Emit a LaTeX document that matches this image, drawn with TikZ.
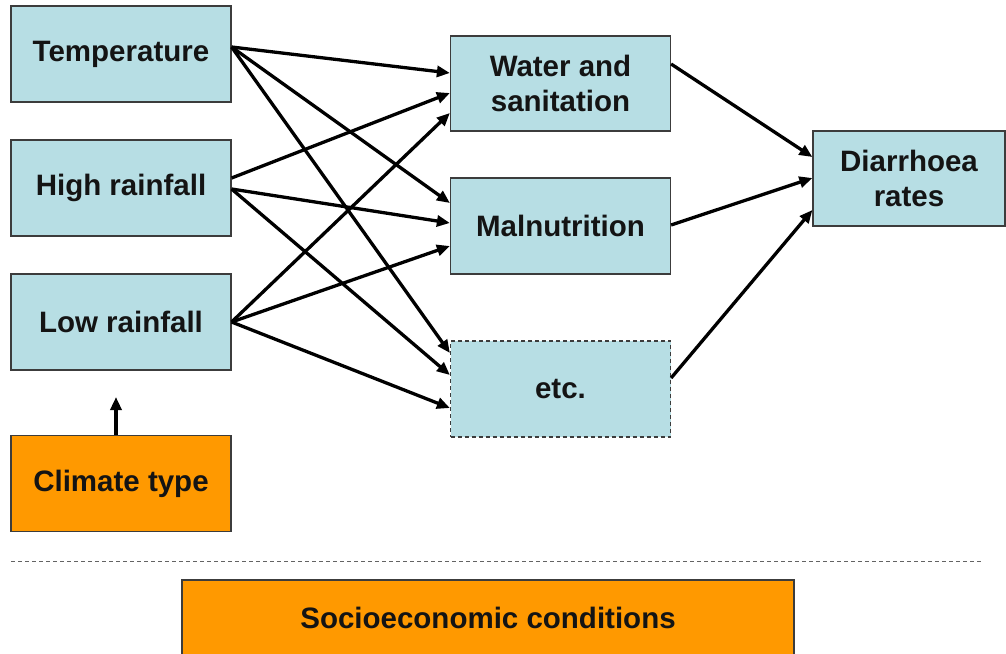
\documentclass[tikz,border=0pt]{standalone}
\usepackage{fontspec}
\setmainfont{Liberation Sans}
\usetikzlibrary{arrows.meta}
\definecolor{boxblue}{RGB}{183,222,228}
\definecolor{boxorange}{RGB}{255,153,0}
\definecolor{boxline}{RGB}{60,60,60}
\definecolor{inktext}{RGB}{20,20,20}
\begin{document}
\begin{tikzpicture}[x=1pt,y=-1pt,
  box/.style={draw=boxline,line width=1.2pt,fill=boxblue,minimum width=220pt,
    minimum height=96pt,inner sep=0pt,align=center,text=inktext,
    font=\fontsize{29.5}{35}\selectfont\bfseries},
  obox/.style={box,fill=boxorange},
  ghostbox/.style={box,dash pattern=on 4pt off 3pt},
  link/.style={line width=3.3pt,-{Triangle[length=13pt,width=11pt]}},
  sep/.style={draw=boxline!80,line width=1pt,dash pattern=on 4pt off 3pt}]
\useasboundingbox (0,0) rectangle (1006,653);

% climate drivers
\node[box] (temp) at (121,54) {Temperature};
\node[box] (high) at (121,188) {High rainfall};
\node[box] (low) at (121,322) {Low rainfall};
\node[obox] (climate) at (121,483.5) {Climate type};

% intermediate pathways
\node[box,minimum height=95pt] (water) at (560.5,83.5) {Water and\\sanitation};
\node[box] (maln) at (560.5,226) {Malnutrition};
\node[ghostbox] (etc) at (560.5,389) {etc.};

% outcome
\node[box,minimum width=192pt,minimum height=95pt] (diar) at (909,178.5) {Diarrhoea\\rates};

% socioeconomic background
\node[obox,minimum width=612pt,minimum height=76pt] (socio) at (488,618) {Socioeconomic conditions};

% drivers to pathways
\draw[link] ([yshift=7pt]temp.east) -- ([yshift=10.5pt]water.west);
\draw[link] ([yshift=7pt]temp.east) -- ([yshift=23pt]maln.west);
\draw[link] ([yshift=7pt]temp.east) -- ([yshift=36pt]etc.west);
\draw[link] ([yshift=10pt]high.east) -- ([yshift=-9.5pt]water.west);
\draw[link] ([yshift=-1pt]high.east) -- ([yshift=3pt]maln.west);
\draw[link] ([yshift=-1pt]high.east) -- ([yshift=14pt]etc.west);
\draw[link] (low.east) -- ([yshift=-29.5pt]water.west);
\draw[link] (low.east) -- ([yshift=-20pt]maln.west);
\draw[link] (low.east) -- ([yshift=-19pt]etc.west);

% pathways to outcome
\draw[link] ([yshift=19.5pt]water.east) -- ([yshift=21.5pt]diar.west);
\draw[link] ([yshift=1pt]maln.east) -- ([yshift=0.5pt]diar.west);
\draw[link] ([yshift=11pt]etc.east) -- ([yshift=-31.5pt]diar.west);

% climate type feeds the drivers
\coordinate (climtip) at (116,397);
\draw[link] ([xshift=-5pt]climate.north) -- (climtip);

% separator
\coordinate (sepL) at (11,561);
\coordinate (sepR) at (983,561);
\draw[sep] (sepL) -- (sepR);
\end{tikzpicture}
\end{document}
